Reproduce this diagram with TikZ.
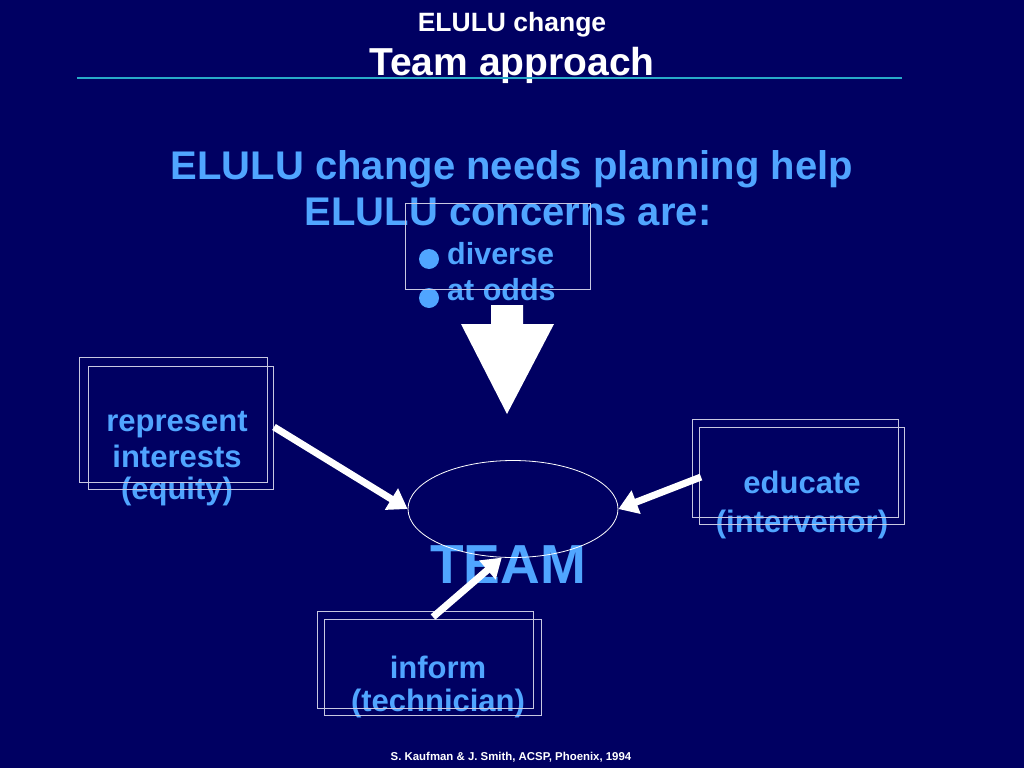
\documentclass[tikz,border=0pt]{standalone}
\usepackage{fontspec}
\setmainfont{Liberation Sans}
\usetikzlibrary{arrows.meta,shapes.geometric}
\definecolor{bg}{RGB}{0,0,98}
\definecolor{lblue}{RGB}{80,165,255}
\definecolor{rulec}{RGB}{40,170,200}
\definecolor{framec}{RGB}{200,200,225}
\begin{document}
\begin{tikzpicture}[x=1pt,y=-1pt,
  lbl/.style={inner sep=0,anchor=base,text=lblue,font=\bfseries\fontsize{31}{36}\selectfont},
  ttl/.style={inner sep=0,anchor=base,text=white},
  frm/.style={draw=framec,line width=0.8pt,inner sep=0,outer sep=0,fill=none},
  warr/.style={draw=white,line width=7pt,-{Triangle[length=19pt,width=24pt]}},
  bul/.style={circle,fill=lblue,inner sep=0,minimum size=20pt}]
\fill[bg] (0,0) rectangle (1024,768);
\useasboundingbox (0,0) rectangle (1024,768);
% titles
\node[ttl,font=\bfseries\fontsize{26.5}{30}\selectfont] (t1) at (512,32) {ELULU change};
\node[ttl,font=\bfseries\fontsize{39}{44}\selectfont] (t2) at (512,75) {Team approach};
\draw[rulec,line width=1.2pt] (77,78) -- (902,78);
% headings
\node[lbl,font=\bfseries\fontsize{40}{46}\selectfont] (h1) at (512,179) {ELULU change needs planning help};
\node[lbl,font=\bfseries\fontsize{40}{46}\selectfont] (h2) at (508,225) {ELULU concerns are:};
% bullets
\node[lbl,anchor=base west,font=\bfseries\fontsize{30.5}{36}\selectfont] (d1) at (447,264) {diverse};
\node[lbl,anchor=base west,font=\bfseries\fontsize{30.5}{36}\selectfont] (d2) at (447,300) {at odds};
\node[bul] (b1) at (429,259) {};
\node[bul] (b2) at (429,298) {};
% box labels
\node[lbl] (l1) at (177,431) {represent};
\node[lbl] (l2) at (177,467) {interests};
\node[lbl] (l3) at (177,499) {(equity)};
\node[lbl] (r1) at (802,493) {educate};
\node[lbl] (r2) at (802,532) {(intervenor)};
\node[lbl] (i1) at (438,678) {inform};
\node[lbl] (i2) at (438,711) {(technician)};
\node[lbl,font=\bfseries\fontsize{55}{60}\selectfont] (tm) at (508,583) {TEAM};
% footer
\node[ttl,font=\bfseries\fontsize{11.4}{13}\selectfont] (ft) at (511,760) {S. Kaufman \& J. Smith, ACSP, Phoenix, 1994};
% frames
\node[frm,minimum width=185pt,minimum height=86pt] (dbox) at (497.5,246) {};
\node[frm,minimum width=188pt,minimum height=125pt] (la) at (173,419.5) {};
\node[frm,minimum width=185pt,minimum height=123pt] (lb) at (180.5,427.5) {};
\node[frm,minimum width=206pt,minimum height=98pt] (ra) at (795,468) {};
\node[frm,minimum width=205pt,minimum height=97pt] (rb) at (801.5,475.5) {};
\node[frm,minimum width=216pt,minimum height=97pt] (ba) at (425,659.5) {};
\node[frm,minimum width=217pt,minimum height=96pt] (bb) at (432.5,667) {};
% team ellipse
\node[ellipse,draw=white,line width=0.8pt,inner sep=0,minimum width=210pt,minimum height=97pt] (team) at (513,509) {};
% big arrow
\fill[white] (491,305) -- (523,305) -- (523,324) -- (554,324) -- (507,414) -- (461,324) -- (491,324) -- cycle;
% connectors
\coordinate (ls) at (274,427);
\coordinate (rs) at (701,477);
\coordinate (bs) at (433,617);
\draw[warr] (ls) -- (team.west);
\draw[warr] (rs) -- (team.east);
\draw[warr] (bs) -- (team.-103);
\end{tikzpicture}
\end{document}
